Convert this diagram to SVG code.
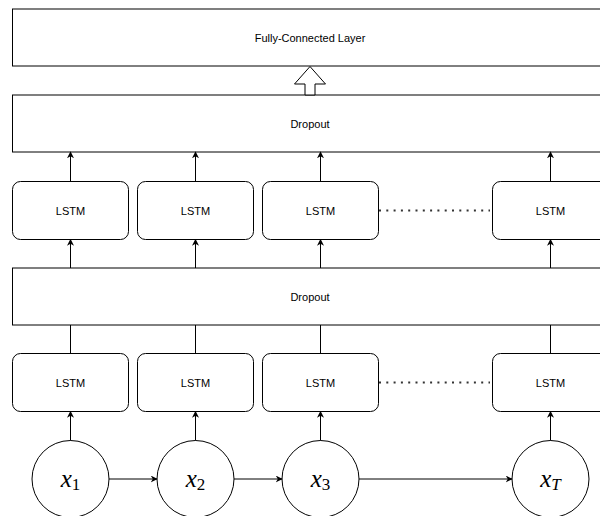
<svg xmlns="http://www.w3.org/2000/svg" width="600" height="516" viewBox="0 0 600 516">
<style>
.box{fill:#fff;stroke:#000;stroke-width:1}
.lbl{font-family:"Liberation Sans",Arial,sans-serif;font-size:11px;fill:#000;text-anchor:middle;dominant-baseline:central}
.ln{stroke:#000;stroke-width:1;fill:none}
.arr{stroke:#000;stroke-width:1;fill:none;marker-end:url(#ah)}
.dot{stroke:#333;stroke-width:2;stroke-dasharray:2 5.3;fill:none}
.math{font-family:"Liberation Serif","Times New Roman",serif;fill:#000;text-anchor:middle}
</style>
<defs>
<marker id="ah" viewBox="0 0 10 10" refX="9" refY="5" markerWidth="7" markerHeight="7" markerUnits="userSpaceOnUse" orient="auto">
<path d="M0,0 L10,5 L0,10 L3,5 z" fill="#000"/>
</marker>
</defs>
<rect width="600" height="516" fill="#fff"/>
<g id="fc"><rect class="box" x="12.5" y="9" width="600" height="57"/><text class="lbl" x="310" y="38">Fully-Connected Layer</text></g>
<g id="dropout1"><rect class="box" x="12.5" y="95" width="600" height="57"/><text class="lbl" x="310" y="124">Dropout</text></g>
<g id="dropout2"><rect class="box" x="12.5" y="268" width="600" height="57"/><text class="lbl" x="310" y="297">Dropout</text></g>
<g id="lstm1a"><rect class="box" x="12.5" y="181.5" width="116" height="58" rx="8"/><text class="lbl" x="70.5" y="210.5">LSTM</text></g>
<g id="lstm2a"><rect class="box" x="137.5" y="181.5" width="116" height="58" rx="8"/><text class="lbl" x="195.5" y="210.5">LSTM</text></g>
<g id="lstm3a"><rect class="box" x="262.5" y="181.5" width="116" height="58" rx="8"/><text class="lbl" x="320.5" y="210.5">LSTM</text></g>
<g id="lstmTa"><rect class="box" x="492.5" y="181.5" width="116" height="58" rx="8"/><text class="lbl" x="550.5" y="210.5">LSTM</text></g>
<g id="lstm1b"><rect class="box" x="12.5" y="353.5" width="116" height="58" rx="8"/><text class="lbl" x="70.5" y="382.5">LSTM</text></g>
<g id="lstm2b"><rect class="box" x="137.5" y="353.5" width="116" height="58" rx="8"/><text class="lbl" x="195.5" y="382.5">LSTM</text></g>
<g id="lstm3b"><rect class="box" x="262.5" y="353.5" width="116" height="58" rx="8"/><text class="lbl" x="320.5" y="382.5">LSTM</text></g>
<g id="lstmTb"><rect class="box" x="492.5" y="353.5" width="116" height="58" rx="8"/><text class="lbl" x="550.5" y="382.5">LSTM</text></g>
<g id="x1"><circle class="box" cx="70.5" cy="479" r="38.5"/><text class="math" x="70.5" y="487" font-size="25"><tspan font-style="italic">x</tspan><tspan font-size="17" dy="3">1</tspan></text></g>
<g id="x2"><circle class="box" cx="195.5" cy="479" r="38.5"/><text class="math" x="195.5" y="487" font-size="25"><tspan font-style="italic">x</tspan><tspan font-size="17" dy="3">2</tspan></text></g>
<g id="x3"><circle class="box" cx="320.5" cy="479" r="38.5"/><text class="math" x="320.5" y="487" font-size="25"><tspan font-style="italic">x</tspan><tspan font-size="17" dy="3">3</tspan></text></g>
<g id="xT"><circle class="box" cx="550.5" cy="479" r="38.5"/><text class="math" x="550.5" y="487" font-size="25"><tspan font-style="italic">x</tspan><tspan font-size="17" dy="3" font-style="italic">T</tspan></text></g>
<g id="connectors">
<polygon points="310,66.5 325.5,84 315,84 315,95 305,95 305,84 294.5,84" fill="#fff" stroke="#000" stroke-width="1"/>
<path class="arr" d="M70.5,181.5 V152"/>
<path class="arr" d="M195.5,181.5 V152"/>
<path class="arr" d="M320.5,181.5 V152"/>
<path class="arr" d="M550.5,181.5 V152"/>
<path class="arr" d="M70.5,268 V239.5"/>
<path class="arr" d="M195.5,268 V239.5"/>
<path class="arr" d="M320.5,268 V239.5"/>
<path class="arr" d="M550.5,268 V239.5"/>
<path class="ln" d="M70.5,353.5 V325"/>
<path class="ln" d="M195.5,353.5 V325"/>
<path class="ln" d="M320.5,353.5 V325"/>
<path class="ln" d="M550.5,353.5 V325"/>
<path class="arr" d="M70.5,440.5 V411.5"/>
<path class="arr" d="M195.5,440.5 V411.5"/>
<path class="arr" d="M320.5,440.5 V411.5"/>
<path class="arr" d="M550.5,440.5 V411.5"/>
<path class="arr" d="M109,479 H157"/>
<path class="arr" d="M234,479 H282"/>
<path class="arr" d="M359,479 H512"/>
<path class="dot" d="M379,210.5 H490"/>
<path class="dot" d="M379,382.5 H490"/>
</g>
</svg>
